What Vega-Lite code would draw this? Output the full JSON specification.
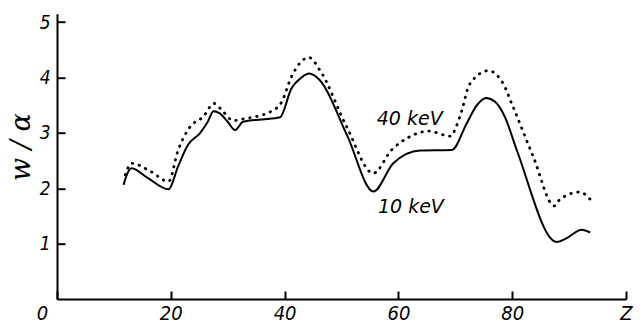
{
  "$schema": "https://vega.github.io/schema/vega-lite/v6.json",
  "width": 569,
  "height": 285.3,
  "autosize": {"type": "none"},
  "padding": {"left": 57, "top": 13.7, "right": 14, "bottom": 25},
  "background": "white",
  "config": {
    "view": {"stroke": null},
    "axis": {
      "domainColor": "black",
      "domainWidth": 2,
      "tickColor": "black",
      "tickWidth": 2,
      "grid": false,
      "labelFont": "Liberation Sans Narrow, DejaVu Sans Condensed, DejaVu Sans",
      "labelFontStyle": "italic",
      "labelColor": "black",
      "titleColor": "black"
    }
  },
  "datasets": {
    "curves": [
      {"z": 11.7, "w": 2.06, "E": "10 keV"},
      {"z": 12.3, "w": 2.25, "E": "10 keV"},
      {"z": 13.1, "w": 2.36, "E": "10 keV"},
      {"z": 16.0, "w": 2.18, "E": "10 keV"},
      {"z": 19.6, "w": 1.98, "E": "10 keV"},
      {"z": 21.3, "w": 2.4, "E": "10 keV"},
      {"z": 23.0, "w": 2.78, "E": "10 keV"},
      {"z": 25.1, "w": 2.99, "E": "10 keV"},
      {"z": 26.5, "w": 3.2, "E": "10 keV"},
      {"z": 27.5, "w": 3.39, "E": "10 keV"},
      {"z": 28.6, "w": 3.35, "E": "10 keV"},
      {"z": 30.0, "w": 3.2, "E": "10 keV"},
      {"z": 31.3, "w": 3.05, "E": "10 keV"},
      {"z": 32.7, "w": 3.2, "E": "10 keV"},
      {"z": 36.0, "w": 3.24, "E": "10 keV"},
      {"z": 39.2, "w": 3.28, "E": "10 keV"},
      {"z": 41.2, "w": 3.8, "E": "10 keV"},
      {"z": 43.0, "w": 4.0, "E": "10 keV"},
      {"z": 44.3, "w": 4.07, "E": "10 keV"},
      {"z": 46.2, "w": 3.95, "E": "10 keV"},
      {"z": 51.0, "w": 2.95, "E": "10 keV"},
      {"z": 55.6, "w": 1.94, "E": "10 keV"},
      {"z": 59.1, "w": 2.45, "E": "10 keV"},
      {"z": 63.8, "w": 2.68, "E": "10 keV"},
      {"z": 69.4, "w": 2.69, "E": "10 keV"},
      {"z": 72.0, "w": 3.17, "E": "10 keV"},
      {"z": 73.8, "w": 3.5, "E": "10 keV"},
      {"z": 75.4, "w": 3.63, "E": "10 keV"},
      {"z": 77.0, "w": 3.56, "E": "10 keV"},
      {"z": 78.7, "w": 3.29, "E": "10 keV"},
      {"z": 80.8, "w": 2.69, "E": "10 keV"},
      {"z": 87.8, "w": 1.03, "E": "10 keV"},
      {"z": 89.6, "w": 1.1, "E": "10 keV"},
      {"z": 92.2, "w": 1.25, "E": "10 keV"},
      {"z": 93.7, "w": 1.2, "E": "10 keV"},
      {"z": 12.0, "w": 2.24, "E": "40 keV"},
      {"z": 13.1, "w": 2.45, "E": "40 keV"},
      {"z": 16.5, "w": 2.3, "E": "40 keV"},
      {"z": 19.6, "w": 2.12, "E": "40 keV"},
      {"z": 21.3, "w": 2.69, "E": "40 keV"},
      {"z": 23.4, "w": 3.11, "E": "40 keV"},
      {"z": 25.7, "w": 3.29, "E": "40 keV"},
      {"z": 27.6, "w": 3.53, "E": "40 keV"},
      {"z": 29.2, "w": 3.38, "E": "40 keV"},
      {"z": 31.0, "w": 3.22, "E": "40 keV"},
      {"z": 32.7, "w": 3.25, "E": "40 keV"},
      {"z": 37.7, "w": 3.39, "E": "40 keV"},
      {"z": 39.5, "w": 3.56, "E": "40 keV"},
      {"z": 41.2, "w": 4.01, "E": "40 keV"},
      {"z": 44.3, "w": 4.36, "E": "40 keV"},
      {"z": 46.2, "w": 4.13, "E": "40 keV"},
      {"z": 50.9, "w": 3.11, "E": "40 keV"},
      {"z": 55.6, "w": 2.27, "E": "40 keV"},
      {"z": 58.8, "w": 2.69, "E": "40 keV"},
      {"z": 62.0, "w": 2.93, "E": "40 keV"},
      {"z": 65.3, "w": 3.03, "E": "40 keV"},
      {"z": 69.1, "w": 2.94, "E": "40 keV"},
      {"z": 70.8, "w": 3.29, "E": "40 keV"},
      {"z": 72.6, "w": 3.89, "E": "40 keV"},
      {"z": 75.8, "w": 4.12, "E": "40 keV"},
      {"z": 78.4, "w": 3.89, "E": "40 keV"},
      {"z": 79.9, "w": 3.53, "E": "40 keV"},
      {"z": 83.7, "w": 2.57, "E": "40 keV"},
      {"z": 87.4, "w": 1.68, "E": "40 keV"},
      {"z": 88.4, "w": 1.8, "E": "40 keV"},
      {"z": 91.9, "w": 1.93, "E": "40 keV"},
      {"z": 93.7, "w": 1.8, "E": "40 keV"}
    ],
    "labels": [
      {"z": 56.2, "w": 3.14, "text": "40 keV"},
      {"z": 56.4, "w": 1.55, "text": "10 keV"}
    ]
  },
  "layer": [
    {
      "data": {"name": "curves"},
      "transform": [{"filter": "datum.E === '10 keV'"}],
      "mark": {"type": "line", "color": "black", "strokeWidth": 2, "interpolate": "monotone"},
      "encoding": {
        "x": {
          "field": "z", "type": "quantitative",
          "scale": {"domain": [0, 100], "nice": false, "zero": false},
          "axis": {
            "title": null,
            "values": [0, 20, 40, 60, 80, 100],
            "format": "d",
            "labelExpr": "datum.value === 100 ? 'Z' : datum.label",
            "labelFontSize": 20,
            "labelBaseline": "alphabetic",
            "tickSize": -8,
            "labelPadding": 28,
            "labelFlush": false,
            "labelOverlap": false,
            "labelOffset": {"condition": {"test": "datum.value === 0", "value": -15}, "value": 0}
          }
        },
        "y": {
          "field": "w", "type": "quantitative",
          "scale": {"domain": [0, 5.15], "nice": false, "zero": false},
          "axis": {
            "title": "w / α",
            "titleFont": "DejaVu Serif",
            "titleFontStyle": "italic",
            "titleFontWeight": "normal",
            "titleFontSize": 27,
            "titleX": -36,
            "titleY": 133,
            "titleAlign": "center",
            "titleBaseline": "middle",
            "values": [1, 2, 3, 4, 5],
            "format": "d",
            "labelFontSize": 19,
            "tickSize": -8,
            "labelPadding": 15,
            "labelFlush": false
          }
        }
      }
    },
    {
      "data": {"name": "curves"},
      "transform": [{"filter": "datum.E === '40 keV'"}],
      "mark": {"type": "line", "color": "black", "strokeWidth": 2.8, "strokeCap": "round", "strokeDash": [0.5, 6.6], "interpolate": "monotone"},
      "encoding": {
        "x": {"field": "z", "type": "quantitative"},
        "y": {"field": "w", "type": "quantitative"}
      }
    },
    {
      "data": {"name": "labels"},
      "mark": {"type": "text", "align": "left", "baseline": "alphabetic", "font": "DejaVu Sans", "fontStyle": "italic", "fontSize": 19, "color": "black"},
      "encoding": {
        "x": {"field": "z", "type": "quantitative"},
        "y": {"field": "w", "type": "quantitative"},
        "text": {"field": "text"}
      }
    }
  ]
}
